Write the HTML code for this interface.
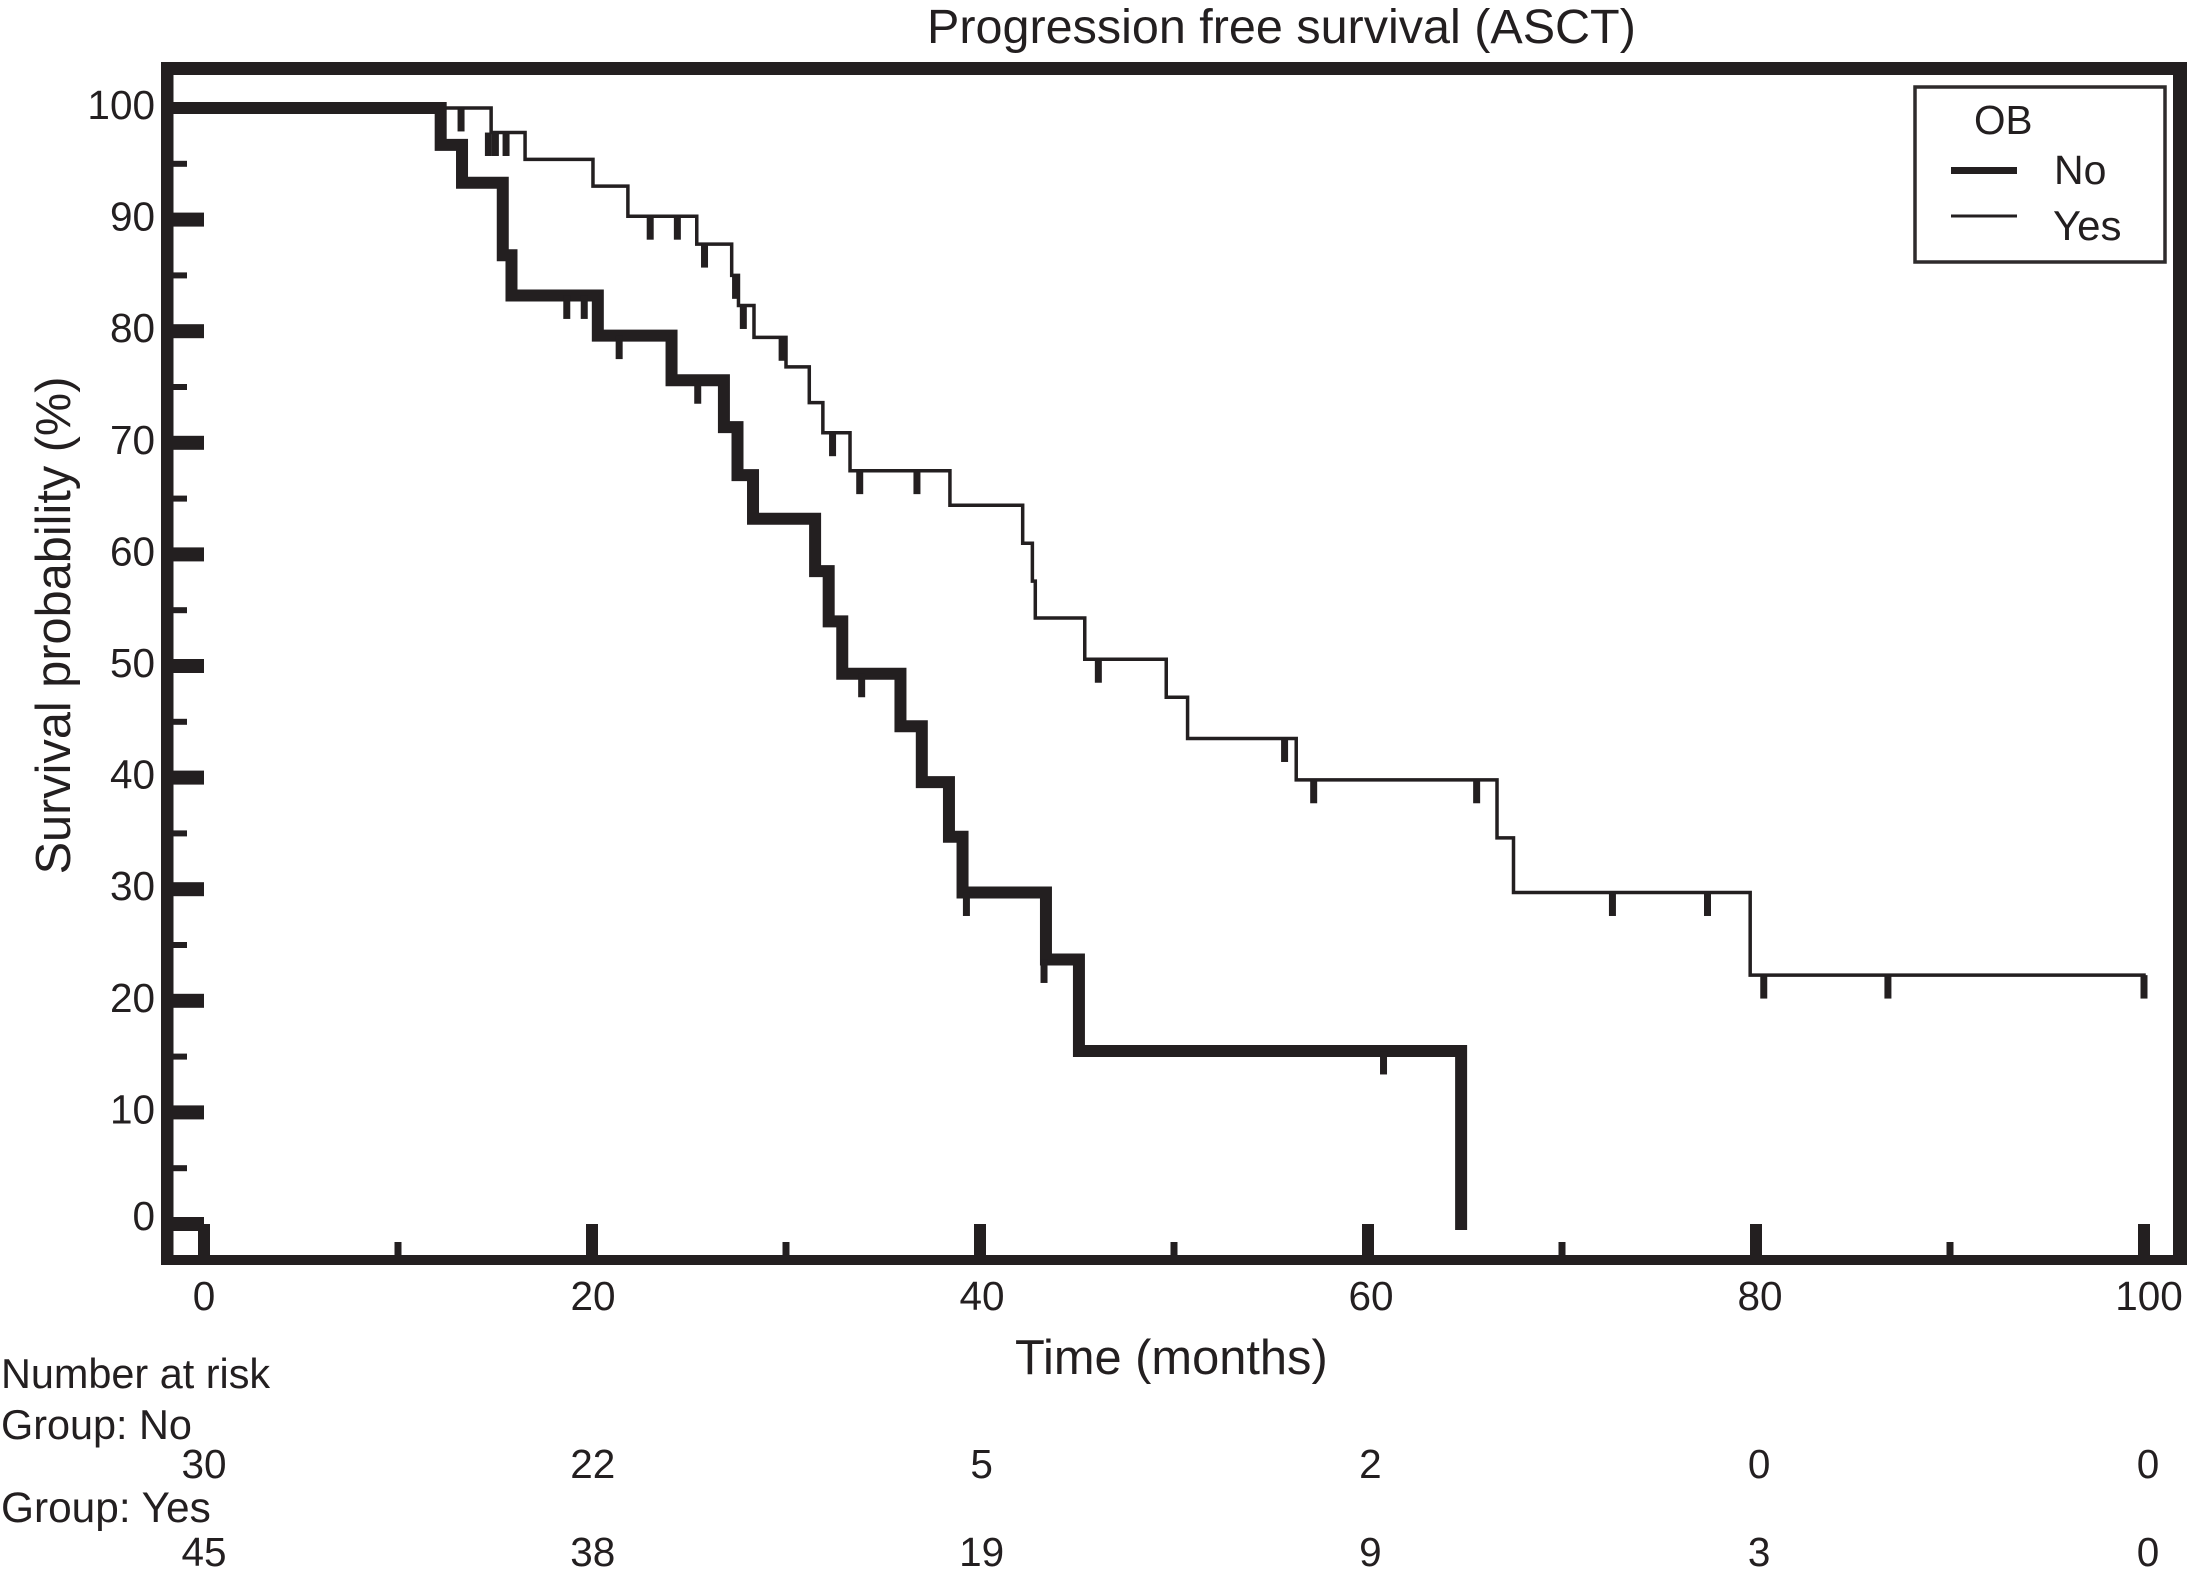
<!DOCTYPE html>
<html lang="en">
<head>
<meta charset="utf-8">
<title>Progression free survival (ASCT)</title>
<style>
html,body{margin:0;padding:0;background:#fff;}
svg{display:block;}
text{font-family:"Liberation Sans",sans-serif;fill:#231f20;}
</style>
</head>
<body>
<svg id="chart" xmlns="http://www.w3.org/2000/svg" width="2187" height="1575" viewBox="0 0 2187 1575">
  <rect x="0" y="0" width="2187" height="1575" fill="#ffffff"/>
  <text x="927" y="43" font-size="48.5">Progression free survival (ASCT)</text>
  <text x="1015" y="1374" font-size="48.8">Time (months)</text>
  <text transform="translate(70,625.5) rotate(-90)" text-anchor="middle" font-size="48.7">Survival probability (%)</text>
  <g id="marks"></g>
  <g fill="#231f20">
    <rect x="161" y="62" width="2026" height="13"/>
    <rect x="161" y="62" width="12.5" height="1203"/>
    <rect x="2173" y="62" width="14" height="1203"/>
    <rect x="161" y="1255" width="2026" height="10"/>
  </g>
  <g>
    <rect x="1915" y="87" width="250" height="175" fill="#ffffff" stroke="#2e2b2c" stroke-width="3.5"/>
    <text x="1974" y="134" font-size="40.5">OB</text>
    <rect x="1951" y="167" width="66" height="7" fill="#231f20"/>
    <text x="2054" y="184" font-size="41">No</text>
    <rect x="1951" y="214.5" width="66" height="3" fill="#231f20"/>
    <text x="2053" y="240" font-size="42">Yes</text>
  </g>
  <text x="1" y="1388" font-size="41.4">Number at risk</text>
  <text x="1" y="1439" font-size="41.4">Group: No</text>
  <text x="1" y="1522" font-size="42.4">Group: Yes</text>
</svg>
<script>
var xMajorTicks = [0, 20, 40, 60, 80, 100];
var xMinorTicks = [10, 30, 50, 70, 90];
var yMajorTicks = [0, 10, 20, 30, 40, 50, 60, 70, 80, 90];
var yMinorTicks = [5, 15, 25, 35, 45, 55, 65, 75, 85, 95];
var yTickLabels = [0, 10, 20, 30, 40, 50, 60, 70, 80, 90, 100];

var noTimes = [-1.6, 12.2, 13.3, 15.4, 15.85, 20.3, 24.1, 26.8, 27.5, 28.3, 31.5, 32.2, 32.9, 35.9, 37.0, 38.4, 39.1, 43.4, 45.1, 64.8];
var noLevels = [100, 96.7, 93.3, 86.8, 83.2, 79.6, 75.6, 71.4, 67.1, 63.2, 58.5, 54.0, 49.3, 44.6, 39.6, 34.7, 29.7, 23.7, 15.5, 0];
var noCensorTimes = [18.7, 19.6, 21.4, 25.45, 33.9, 39.3, 43.3, 60.8];
var noCensorLevels = [83.2, 83.2, 79.6, 75.6, 49.3, 29.7, 23.7, 15.5];

var yesTimes = [0, 14.8, 16.55, 20.05, 21.85, 25.4, 27.2, 27.55, 28.35, 30.0, 31.2, 31.9, 33.3, 38.45, 42.2, 42.7, 42.85, 45.4, 49.6, 50.7, 56.3, 66.65, 67.5, 79.7, 100];
var yesLevels = [100, 97.8, 95.4, 93.0, 90.3, 87.8, 85.0, 82.3, 79.45, 76.8, 73.6, 70.9, 67.5, 64.4, 61.0, 57.6, 54.3, 50.6, 47.2, 43.5, 39.8, 34.6, 29.7, 22.3, 22.3];
var yesCensorTimes = [13.25, 14.66, 15.02, 15.57, 23.0, 24.4, 25.8, 27.4, 27.8, 29.8, 32.4, 33.8, 36.75, 46.1, 55.7, 57.2, 65.6, 72.6, 77.5, 80.4, 86.8, 100];
var yesCensorLevels = [100, 97.8, 97.8, 97.8, 90.3, 90.3, 87.8, 85.0, 82.3, 79.45, 70.9, 67.5, 67.5, 50.6, 43.5, 39.8, 39.8, 29.7, 29.7, 22.3, 22.3, 22.3];
var censorDrop = 2.1;

var riskTimes = [0, 20, 40, 60, 80, 100];
var riskNo = [30, 22, 5, 2, 0, 0];
var riskYes = [45, 38, 19, 9, 3, 0];

var NS = 'http://www.w3.org/2000/svg';
var INK = '#231f20';
var marks = document.getElementById('marks');
var chart = document.getElementById('chart');

function xScale(t) { return 204 + 19.4 * t; }
function yScale(v) { return 108 + (100 - v) * 11.16; }

function addRect(x, y, w, h) {
  var r = document.createElementNS(NS, 'rect');
  r.setAttribute('x', x);
  r.setAttribute('y', y);
  r.setAttribute('width', w);
  r.setAttribute('height', h);
  r.setAttribute('fill', INK);
  marks.appendChild(r);
  return r;
}
function addText(str, x, y, anchor) {
  var t = document.createElementNS(NS, 'text');
  t.setAttribute('x', x);
  t.setAttribute('y', y);
  t.setAttribute('font-size', '40.5');
  t.setAttribute('text-anchor', anchor);
  t.textContent = str;
  chart.appendChild(t);
  return t;
}
function stepPath(times, levels) {
  var d = 'M' + xScale(times[0]) + ' ' + yScale(levels[0]);
  for (var i = 1; i < times.length; i++) {
    d += 'H' + xScale(times[i]);
    d += 'V' + yScale(levels[i]);
  }
  return d;
}
function addPath(d, width) {
  var p = document.createElementNS(NS, 'path');
  p.setAttribute('d', d);
  p.setAttribute('fill', 'none');
  p.setAttribute('stroke', INK);
  p.setAttribute('stroke-width', width);
  p.setAttribute('stroke-linejoin', 'miter');
  p.setAttribute('stroke-linecap', 'square');
  marks.appendChild(p);
  return p;
}

var el, i;

for (i = 0; i < yMajorTicks.length; i++) {
  el = addRect(173, yScale(yMajorTicks[i]) - 7, 31, 14);
  
  
}
for (i = 0; i < yMinorTicks.length; i++) {
  el = addRect(173, yScale(yMinorTicks[i]) - 3, 14, 6);
  
  
}
for (i = 0; i < xMajorTicks.length; i++) {
  el = addRect(xScale(xMajorTicks[i]) - 6, 1224, 12, 32);
  
  
}
for (i = 0; i < xMinorTicks.length; i++) {
  el = addRect(xScale(xMinorTicks[i]) - 3.5, 1242, 7, 14);
  
  
}

el = addPath(stepPath(yesTimes, yesLevels), 3.5);



el = addPath(stepPath(noTimes, noLevels), 12);



for (i = 0; i < yesCensorTimes.length; i++) {
  el = addRect(xScale(yesCensorTimes[i]) - 3.5, yScale(yesCensorLevels[i]), 7, yScale(yesCensorLevels[i] - censorDrop) - yScale(yesCensorLevels[i]));
  
  
}
for (i = 0; i < noCensorTimes.length; i++) {
  el = addRect(xScale(noCensorTimes[i]) - 3.5, yScale(noCensorLevels[i]), 7, yScale(noCensorLevels[i] - censorDrop) - yScale(noCensorLevels[i]));
  
  
}

for (i = 0; i < yTickLabels.length; i++) {
  var yLabelOffset = yTickLabels[i] === 0 ? 6 : 11;
  el = addText(String(yTickLabels[i]), 155, yScale(yTickLabels[i]) + yLabelOffset, 'end');
  
  
}
for (i = 0; i < xMajorTicks.length; i++) {
  el = addText(String(xMajorTicks[i]), xScale(xMajorTicks[i]) + (i * 1), 1310, 'middle');
  
  
}
for (i = 0; i < riskTimes.length; i++) {
  el = addText(String(riskNo[i]), xScale(riskTimes[i]) + (i * 0.8), 1478, 'middle');
  
  
  el = addText(String(riskYes[i]), xScale(riskTimes[i]) + (i * 0.8), 1566, 'middle');
  
  
}
</script>
</body>
</html>
